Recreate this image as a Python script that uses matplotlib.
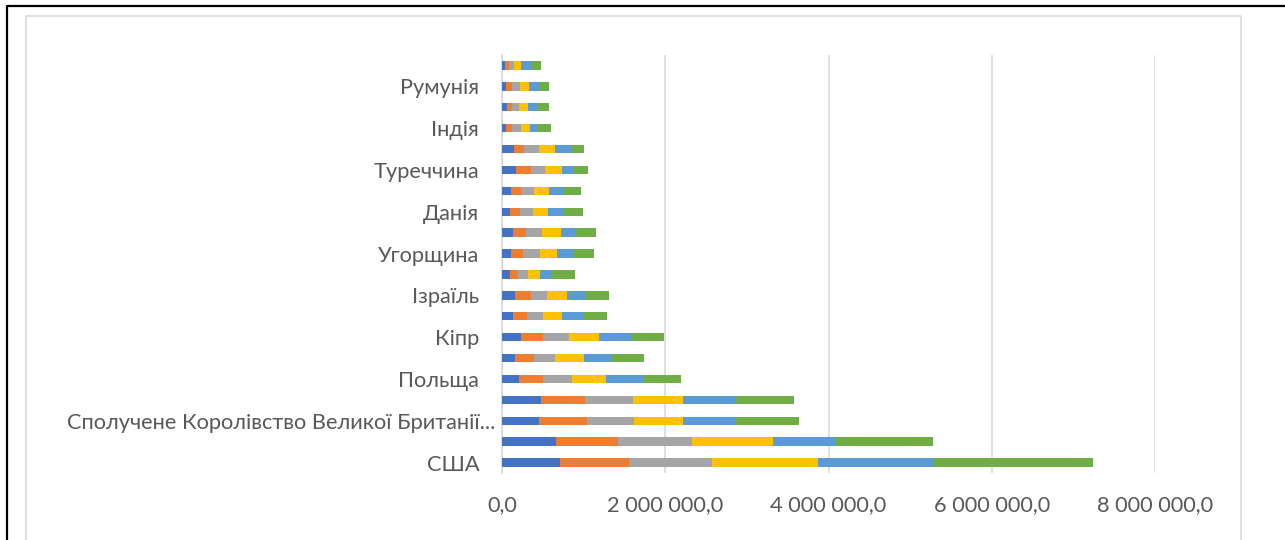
import matplotlib
matplotlib.use("Agg")
import matplotlib.pyplot as plt
import matplotlib.transforms as mtransforms
from matplotlib.lines import Line2D
from matplotlib.ticker import FuncFormatter
import numpy as np

# Categories bottom -> top (only every other one is labelled on the axis)
categories = ["США", "", "Сполучене Королівство Великої Британії...", "",
              "Польща", "", "Кіпр", "", "Ізраїль", "", "Угорщина", "",
              "Данія", "", "Туреччина", "", "Індія", "", "Румунія", ""]

s1 = [709e3, 665e3, 451e3, 480e3, 213e3, 164e3, 233e3, 139e3, 164e3, 102e3,
      111e3, 135e3, 98e3, 115e3, 172e3, 143e3, 49e3, 57e3, 53e3, 33e3]
s2 = [849e3, 757e3, 587e3, 539e3, 294e3, 225e3, 274e3, 168e3, 188e3, 94e3,
      148e3, 164e3, 119e3, 123e3, 180e3, 131e3, 74e3, 61e3, 66e3, 53e3]
s3 = [1014e3, 903e3, 578e3, 587e3, 356e3, 262e3, 319e3, 196e3, 200e3, 119e3,
      201e3, 193e3, 160e3, 152e3, 176e3, 176e3, 107e3, 90e3, 98e3, 57e3]
s4 = [1296e3, 990e3, 602e3, 607e3, 417e3, 348e3, 360e3, 237e3, 245e3, 148e3,
      217e3, 234e3, 184e3, 189e3, 201e3, 205e3, 119e3, 115e3, 119e3, 90e3]
s5 = [1422e3, 781e3, 636e3, 636e3, 450e3, 335e3, 409e3, 249e3, 221e3, 152e3,
      201e3, 180e3, 197e3, 176e3, 143e3, 201e3, 98e3, 111e3, 119e3, 119e3]
s6 = [1951e3, 1184e3, 786e3, 723e3, 466e3, 401e3, 384e3, 299e3, 290e3, 275e3,
      254e3, 246e3, 238e3, 209e3, 184e3, 148e3, 148e3, 139e3, 123e3, 123e3]

series = [s1, s2, s3, s4, s5, s6]
colors = ["#4472C4", "#ED7D31", "#A5A5A5", "#FFC000", "#5B9BD5", "#70AD47"]
xticks = [0, 2e6, 4e6, 6e6, 8e6]

plt.rcParams['font.family'] = ['Lato', 'DejaVu Sans']

W, H = 1285, 540
fig = plt.figure(figsize=(W / 100, H / 100), dpi=100)
fig.patch.set_facecolor("white")

ax = fig.add_axes([502 / W, 1 - 473 / H, (1155 - 502) / W, (473 - 55) / H])
y = np.arange(len(categories))
left = np.zeros(len(categories))
for vals, c in zip(series, colors):
    v = np.array(vals)
    ax.barh(y, v, left=left, height=0.4, color=c, zorder=3)
    left += v

ax.set_xlim(0, 8e6)
ax.set_ylim(-0.5, len(categories) - 0.5)
ax.set_xticks(xticks)
ax.xaxis.set_major_formatter(FuncFormatter(
    lambda v, p: f"{v:,.1f}".replace(",", " ").replace(".", ",")))
ax.set_yticks(y[::2])
ax.set_yticklabels(categories[::2])
ax.grid(axis="x", color="#D9D9D9", linewidth=1.2, zorder=0)
for s in ["top", "right", "bottom"]:
    ax.spines[s].set_visible(False)
ax.spines["left"].set_color("#D9D9D9")
ax.spines["left"].set_linewidth(1.2)
ax.tick_params(axis="both", length=0, colors="#595959", labelsize=15.7)
ax.tick_params(axis="y", pad=16.5)
ax.tick_params(axis="x", pad=16)

# the truncated long label sits closer to the axis
lbl = ax.get_yticklabels()[1]
lbl.set_transform(lbl.get_transform() +
                  mtransforms.ScaledTranslation(16 / 100, 0, fig.dpi_scale_trans))

# frames
fig.add_artist(Line2D([26 / W, 26 / W, 1241 / W, 1241 / W],
                      [0, 1 - 16 / H, 1 - 16 / H, 0], color="#D9D9D9",
                      linewidth=1.2, transform=fig.transFigure))
fig.add_artist(Line2D([7 / W, 7 / W, 1], [0, 1 - 6 / H, 1 - 6 / H],
                      color="black", linewidth=1.6, transform=fig.transFigure))

fig.savefig("out.png", dpi=100, facecolor="white")
